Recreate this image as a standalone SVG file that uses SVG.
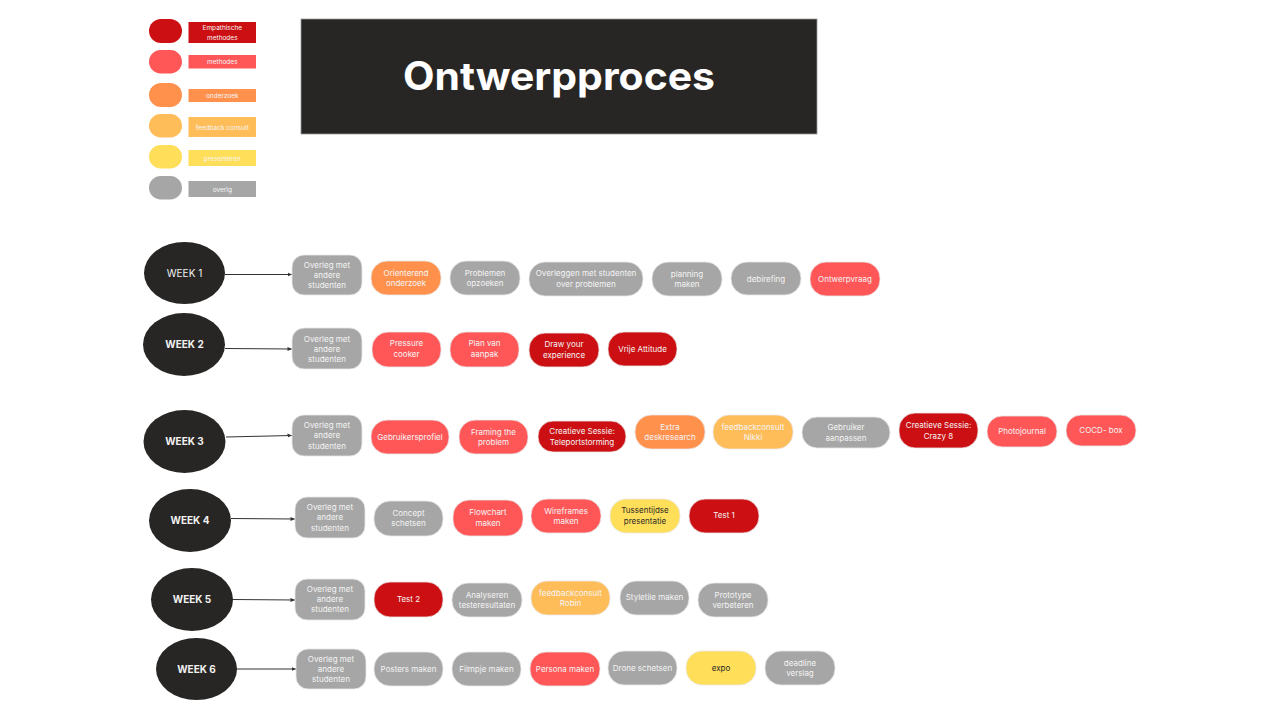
<svg xmlns="http://www.w3.org/2000/svg" width="1280" height="720" viewBox="0 0 1280 720">
<style>
  text { font-family: Inter, "Noto Sans", "Liberation Sans", sans-serif; text-anchor: middle; }
  .p { font-size: 8px; fill: #f4f4f4; }
  .pd { font-size: 8px; fill: #2a2a2a; }
  .lg { font-size: 6.5px; fill: #f6f6f6; }
  .wk { font-size: 10px; fill: #f2f2f2; font-weight: 700; }
  .wk1 { font-size: 10px; fill: #f2f2f2; font-weight: 400; }
  .dk { fill: #cb0f12; }
  .rd { fill: #ff5757; }
  .or { fill: #ff914d; }
  .fb { fill: #ffbd59; }
  .ye { fill: #ffde59; }
  .gr { fill: #a6a6a6; }
  .pill rect { stroke: #e8e8e8; stroke-width: 0.8; }
  .week ellipse { fill: #282624; }
  .conn line { stroke: #333333; stroke-width: 1; fill: none; }
</style>
<defs>
  <marker id="ah" markerUnits="userSpaceOnUse" markerWidth="5" markerHeight="5" refX="4.5" refY="2.5" orient="auto">
    <path d="M0,0.5 L4.5,2.5 L0,4.5 Z" fill="#333333"/>
  </marker>
</defs>
<rect width="1280" height="720" fill="#ffffff"/>

<!-- Legend -->
<g id="legend">
  <rect class="dk" x="149" y="19" width="33" height="24" rx="12"/>
  <rect class="dk" x="188.5" y="22" width="67.5" height="21"/>
  <text class="lg" x="222.3" y="30">Empathische</text>
  <text class="lg" x="222.3" y="39.5">methodes</text>

  <rect class="rd" x="149" y="50" width="33" height="23.5" rx="11.7"/>
  <rect class="rd" x="188.5" y="55" width="67.5" height="13.5"/>
  <text class="lg" x="222.3" y="64">methodes</text>

  <rect class="or" x="149" y="83" width="33" height="24" rx="12"/>
  <rect class="or" x="188.5" y="89" width="67.5" height="13"/>
  <text class="lg" x="222.3" y="97.8">onderzoek</text>

  <rect class="fb" x="149" y="114" width="33" height="23.5" rx="11.7"/>
  <rect class="fb" x="188.5" y="117" width="67.5" height="20"/>
  <text class="lg" x="222.3" y="129.5">feedback consult</text>

  <rect class="ye" x="149" y="145" width="33" height="23.5" rx="11.7"/>
  <rect class="ye" x="188.5" y="150" width="67.5" height="16"/>
  <text class="lg" x="222.3" y="160.5">presenteren</text>

  <rect class="gr" x="149" y="176" width="33" height="23.5" rx="11.7"/>
  <rect class="gr" x="188.5" y="181" width="67.5" height="16"/>
  <text class="lg" x="222.3" y="191.5">overig</text>
</g>

<!-- Title -->
<g id="title">
  <rect x="301" y="19" width="516" height="115" fill="#282624" stroke="#9a9a9a" stroke-width="0.8"/>
  <text x="559" y="90" font-size="39" font-weight="700" fill="#ffffff" textLength="312" lengthAdjust="spacingAndGlyphs">Ontwerpproces</text>
</g>

<!-- Connectors -->
<g id="connectors" class="conn">
  <line x1="225" y1="274.5" x2="292" y2="274.5" marker-end="url(#ah)"/>
  <line x1="225" y1="348.5" x2="292" y2="349" marker-end="url(#ah)"/>
  <line x1="226" y1="437" x2="292" y2="435.5" marker-end="url(#ah)"/>
  <line x1="231" y1="518.5" x2="295" y2="519" marker-end="url(#ah)"/>
  <line x1="233" y1="599.5" x2="295" y2="600" marker-end="url(#ah)"/>
  <line x1="237" y1="669" x2="296" y2="669" marker-end="url(#ah)"/>
</g>

<!-- Weeks -->
<g id="week1" class="week"><ellipse cx="184.5" cy="273" rx="40.5" ry="31"/><text class="wk1" x="184.5" y="276.8">WEEK 1</text></g>
<g id="week2" class="week"><ellipse cx="184" cy="344.5" rx="41" ry="31.5"/><text class="wk" x="184.5" y="347.5">WEEK 2</text></g>
<g id="week3" class="week"><ellipse cx="184.5" cy="441.5" rx="41" ry="31.5"/><text class="wk" x="184.5" y="445.2">WEEK 3</text></g>
<g id="week4" class="week"><ellipse cx="190" cy="520.5" rx="41" ry="31.5"/><text class="wk" x="190" y="524">WEEK 4</text></g>
<g id="week5" class="week"><ellipse cx="192" cy="599.5" rx="41" ry="31.5"/><text class="wk" x="192" y="603">WEEK 5</text></g>
<g id="week6" class="week"><ellipse cx="196.5" cy="669" rx="40.5" ry="31"/><text class="wk" x="196.5" y="672.5">WEEK 6</text></g>

<!-- Week 1 row -->
<g id="w1-overleg" class="pill"><rect class="gr" x="292" y="255" width="70" height="40" rx="12"/><text class="p" x="327" y="268">Overleg met</text><text class="p" x="327" y="278">andere</text><text class="p" x="327" y="288">studenten</text></g>
<g id="w1-orienterend" class="pill"><rect class="or" x="371" y="261" width="70" height="34" rx="16"/><text class="p" x="406" y="275.6">Orienterend</text><text class="p" x="406" y="286.2">onderzoek</text></g>
<g id="w1-problemen" class="pill"><rect class="gr" x="450" y="261" width="70" height="34" rx="16"/><text class="p" x="485" y="275.6">Problemen</text><text class="p" x="485" y="286.2">opzoeken</text></g>
<g id="w1-overleggen" class="pill"><rect class="gr" x="529" y="262" width="114" height="34" rx="16"/><text class="p" x="586" y="276.2">Overleggen met studenten</text><text class="p" x="586" y="286.6">over problemen</text></g>
<g id="w1-planning" class="pill"><rect class="gr" x="652" y="262" width="70" height="34" rx="16"/><text class="p" x="687" y="277">planning</text><text class="p" x="687" y="287.2">maken</text></g>
<g id="w1-debirefing" class="pill"><rect class="gr" x="731" y="262" width="70" height="33" rx="16"/><text class="p" x="766" y="281.5">debirefing</text></g>
<g id="w1-ontwerpvraag" class="pill"><rect class="rd" x="810" y="262" width="70" height="34" rx="16"/><text class="p" x="845" y="281.5">Ontwerpvraag</text></g>

<!-- Week 2 row -->
<g id="w2-overleg" class="pill"><rect class="gr" x="292" y="328" width="70" height="41" rx="12"/><text class="p" x="327" y="341.6">Overleg met</text><text class="p" x="327" y="352">andere</text><text class="p" x="327" y="362.2">studenten</text></g>
<g id="w2-pressure" class="pill"><rect class="rd" x="372" y="332" width="69" height="35" rx="16"/><text class="p" x="406.5" y="346.2">Pressure</text><text class="p" x="406.5" y="357">cooker</text></g>
<g id="w2-plan" class="pill"><rect class="rd" x="450" y="332" width="69" height="35" rx="16"/><text class="p" x="484.5" y="346.2">Plan van</text><text class="p" x="484.5" y="357">aanpak</text></g>
<g id="w2-draw" class="pill"><rect class="dk" x="529" y="333" width="70" height="34" rx="16"/><text class="p" x="564" y="347.2">Draw your</text><text class="p" x="564" y="358.2">experience</text></g>
<g id="w2-vrije" class="pill"><rect class="dk" x="608" y="332" width="69" height="34" rx="16"/><text class="p" x="642.5" y="351.6">Vrije Attitude</text></g>

<!-- Week 3 row -->
<g id="w3-overleg" class="pill"><rect class="gr" x="292" y="415" width="70" height="41" rx="12"/><text class="p" x="327" y="428">Overleg met</text><text class="p" x="327" y="438.2">andere</text><text class="p" x="327" y="448.6">studenten</text></g>
<g id="w3-gebruikersprofiel" class="pill"><rect class="rd" x="371" y="420" width="78" height="34" rx="16"/><text class="p" x="410" y="439.6">Gebruikersprofiel</text></g>
<g id="w3-framing" class="pill"><rect class="rd" x="459" y="420" width="69" height="34" rx="16"/><text class="p" x="493.5" y="434.6">Framing the</text><text class="p" x="493.5" y="445.2">problem</text></g>
<g id="w3-teleport" class="pill"><rect class="dk" x="538" y="421" width="88" height="31" rx="15"/><text class="p" x="582" y="433.9">Creatieve Sessie:</text><text class="p" x="582" y="444.6">Teleportstorming</text></g>
<g id="w3-extra" class="pill"><rect class="or" x="635" y="415" width="70" height="34" rx="16"/><text class="p" x="670" y="429.6">Extra</text><text class="p" x="670" y="440.2">deskresearch</text></g>
<g id="w3-nikki" class="pill"><rect class="fb" x="713" y="415" width="80" height="34" rx="16"/><text class="p" x="753" y="429.6">feedbackconsult</text><text class="p" x="753" y="440.2">Nikki</text></g>
<g id="w3-gebruiker" class="pill"><rect class="gr" x="802" y="417" width="88" height="31" rx="15"/><text class="p" x="846" y="430.2">Gebruiker</text><text class="p" x="846" y="440.6">aanpassen</text></g>
<g id="w3-crazy8" class="pill"><rect class="dk" x="899" y="413" width="79" height="35" rx="16"/><text class="p" x="938.5" y="427.9">Creatieve Sessie:</text><text class="p" x="938.5" y="438.6">Crazy 8</text></g>
<g id="w3-photojournal" class="pill"><rect class="rd" x="987" y="416" width="70" height="31" rx="15"/><text class="p" x="1022" y="433.9">Photojournal</text></g>
<g id="w3-cocd" class="pill"><rect class="rd" x="1066" y="415" width="70" height="31" rx="15"/><text class="p" x="1101" y="433.2">COCD- box</text></g>

<!-- Week 4 row -->
<g id="w4-overleg" class="pill"><rect class="gr" x="295" y="497" width="70" height="41" rx="12"/><text class="p" x="330" y="510.4">Overleg met</text><text class="p" x="330" y="520.4">andere</text><text class="p" x="330" y="530.6">studenten</text></g>
<g id="w4-concept" class="pill"><rect class="gr" x="374" y="501" width="69" height="35" rx="16"/><text class="p" x="408.5" y="515.6">Concept</text><text class="p" x="408.5" y="526.2">schetsen</text></g>
<g id="w4-flowchart" class="pill"><rect class="rd" x="453" y="500" width="70" height="36" rx="16"/><text class="p" x="488" y="515">Flowchart</text><text class="p" x="488" y="526">maken</text></g>
<g id="w4-wireframes" class="pill"><rect class="rd" x="531" y="499" width="70" height="34" rx="16"/><text class="p" x="566" y="513.7">Wireframes</text><text class="p" x="566" y="524.3">maken</text></g>
<g id="w4-tussentijdse" class="pill"><rect class="ye" x="610" y="499" width="70" height="34" rx="16"/><text class="pd" x="645" y="513">Tussentijdse</text><text class="pd" x="645" y="524">presentatie</text></g>
<g id="w4-test1" class="pill"><rect class="dk" x="689" y="499" width="70" height="34" rx="16"/><text class="p" x="724" y="518">Test 1</text></g>

<!-- Week 5 row -->
<g id="w5-overleg" class="pill"><rect class="gr" x="295" y="579" width="70" height="41" rx="12"/><text class="p" x="330" y="592.4">Overleg met</text><text class="p" x="330" y="602.4">andere</text><text class="p" x="330" y="612.4">studenten</text></g>
<g id="w5-test2" class="pill"><rect class="dk" x="374" y="582" width="69" height="35" rx="16"/><text class="p" x="408.5" y="602">Test 2</text></g>
<g id="w5-analyseren" class="pill"><rect class="gr" x="452" y="583" width="70" height="34" rx="16"/><text class="p" x="487" y="597.6">Analyseren</text><text class="p" x="487" y="608.2">testeresultaten</text></g>
<g id="w5-robin" class="pill"><rect class="fb" x="531" y="581" width="79" height="34" rx="16"/><text class="p" x="570.5" y="595.5">feedbackconsult</text><text class="p" x="570.5" y="606">Robin</text></g>
<g id="w5-styletile" class="pill"><rect class="gr" x="620" y="581" width="69" height="34" rx="16"/><text class="p" x="654.5" y="600">Styletile maken</text></g>
<g id="w5-prototype" class="pill"><rect class="gr" x="698" y="583" width="70" height="34" rx="16"/><text class="p" x="733" y="597.6">Prototype</text><text class="p" x="733" y="608.2">verbeteren</text></g>

<!-- Week 6 row -->
<g id="w6-overleg" class="pill"><rect class="gr" x="296" y="649" width="70" height="40" rx="12"/><text class="p" x="331" y="662">Overleg met</text><text class="p" x="331" y="672">andere</text><text class="p" x="331" y="682">studenten</text></g>
<g id="w6-posters" class="pill"><rect class="gr" x="374" y="652" width="69" height="34" rx="16"/><text class="p" x="408.5" y="672">Posters maken</text></g>
<g id="w6-filmpje" class="pill"><rect class="gr" x="452" y="652" width="69" height="34" rx="16"/><text class="p" x="486.5" y="672">Filmpje maken</text></g>
<g id="w6-persona" class="pill"><rect class="rd" x="530" y="652" width="70" height="34" rx="16"/><text class="p" x="565" y="672">Persona maken</text></g>
<g id="w6-drone" class="pill"><rect class="gr" x="608" y="651" width="69" height="34" rx="16"/><text class="p" x="642.5" y="671">Drone schetsen</text></g>
<g id="w6-expo" class="pill"><rect class="ye" x="686" y="651" width="70" height="34" rx="16"/><text class="pd" x="721" y="671">expo</text></g>
<g id="w6-deadline" class="pill"><rect class="gr" x="765" y="651" width="70" height="34" rx="16"/><text class="p" x="800" y="665.6">deadline</text><text class="p" x="800" y="676.2">verslag</text></g>
</svg>
